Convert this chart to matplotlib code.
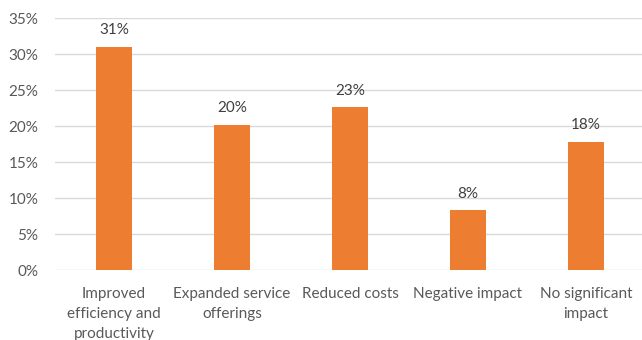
import matplotlib.pyplot as plt

categories = ["Improved\nefficiency and\nproductivity", "Expanded service\nofferings",
              "Reduced costs", "Negative impact", "No significant\nimpact"]
shares = [31.0, 20.2, 22.6, 8.3, 17.8]
yticks = [0, 5, 10, 15, 20, 25, 30, 35]

plt.rcParams['font.family'] = ['Lato', 'DejaVu Sans']

fig = plt.figure(figsize=(6.42, 3.40), dpi=100)
ax = fig.add_axes([55 / 642, 70 / 340, 587 / 642, 252 / 340])

x = range(len(categories))
bars = ax.bar(x, shares, width=0.305, color='#ED7D31', zorder=3)

for b, v in zip(bars, shares):
    ax.text(b.get_x() + b.get_width() / 2, v + 1.3, f"{v:.0f}%",
            ha='center', va='bottom', fontsize=11, color='#404040')

ax.set_ylim(0, 35)
ax.set_xlim(-0.5, 4.475)
ax.set_yticks(yticks)
ax.set_yticklabels([f"{t}%" for t in yticks])
ax.set_xticks(list(x))
ax.set_xticklabels(categories, linespacing=1.55)
ax.tick_params(axis='both', length=0, labelsize=11, labelcolor='#595959')
ax.tick_params(axis='x', pad=12)
ax.tick_params(axis='y', pad=12)
ax.yaxis.grid(True, color='#D9D9D9', linewidth=1, zorder=0)
for s in ax.spines.values():
    s.set_visible(False)

fig.savefig('out.png', dpi=100)
